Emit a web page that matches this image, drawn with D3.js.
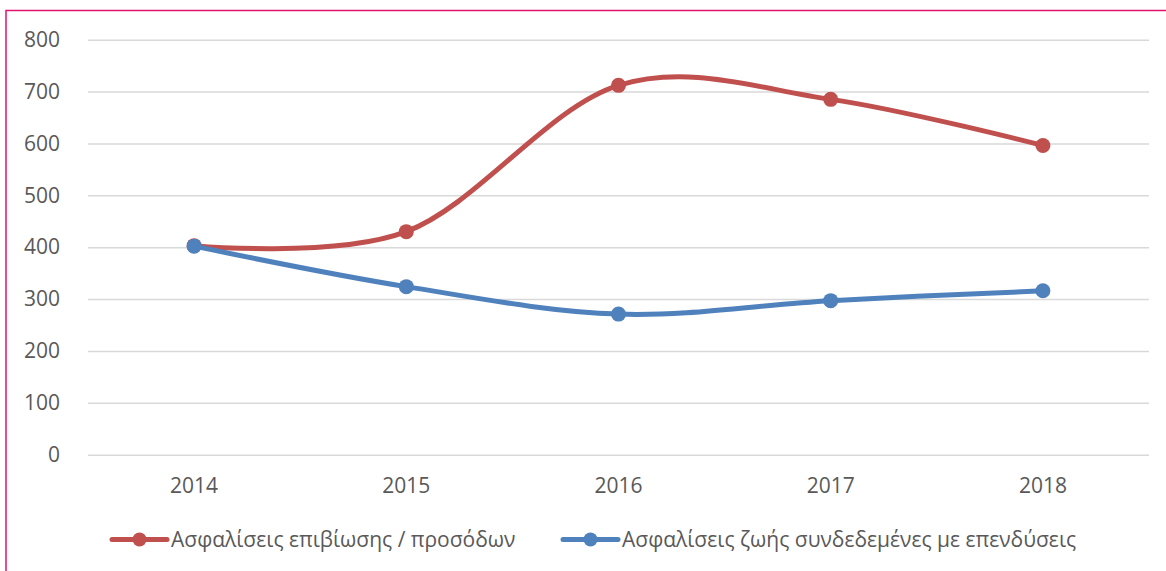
<!DOCTYPE html>
<html>
<head>
<meta charset="utf-8">
<script src="https://cdn.jsdelivr.net/npm/d3@7"></script>
<style>
  html, body { margin: 0; padding: 0; background: #fff; }
  svg { display: block; }
  text { font-family: "Open Sans", "Noto Sans", sans-serif; fill: #595959; }
</style>
</head>
<body>
<svg id="chart" width="1166" height="571"></svg>
<script>
const categories = ["2014", "2015", "2016", "2017", "2018"];
const seriesNames = ["Ασφαλίσεις επιβίωσης / προσόδων", "Ασφαλίσεις ζωής συνδεδεμένες με επενδύσεις"];
const survivalValues = [403, 430, 712, 685, 596];
const unitLinkedValues = [402, 324, 271, 297, 316];
const yTicks = [0, 100, 200, 300, 400, 500, 600, 700, 800];
const colors = ["#c0504d", "#4f81bd"];

const svg = d3.select("#chart");
const W = 1166, H = 571;
const plot = { left: 88, right: 1149, top: 39.7, bottom: 454.7 };
const FS = 21;

// border
svg.append("rect").attr("x", 6).attr("y", 10.5).attr("width", W + 10).attr("height", H + 10)
  .attr("fill", "none").attr("stroke", "#e2136e").attr("stroke-width", 1.5);

const x = d3.scaleBand().domain(categories).range([plot.left, plot.right]).padding(0);
const y = d3.scaleLinear().domain([0, 800]).range([plot.bottom, plot.top]);
const cx = d => x(d) + x.bandwidth() / 2;

// gridlines + y labels
const yAxis = d3.axisLeft(y).tickValues(yTicks).tickSize(-(plot.right - plot.left)).tickPadding(28).tickFormat(d3.format("d"));
const gy = svg.append("g").attr("transform", `translate(${plot.left},0)`).call(yAxis);
gy.select(".domain").remove();
gy.selectAll(".tick line").attr("stroke", "#d9d9d9").attr("stroke-width", 1.5);
gy.selectAll(".tick text").attr("font-size", FS).attr("fill", "#595959").attr("font-family", null);

const xAxis = d3.axisBottom(x).tickSize(0).tickPadding(23.5);
const gx = svg.append("g").attr("transform", `translate(0,${plot.bottom})`).call(xAxis);
gx.select(".domain").remove();
gx.selectAll(".tick text").attr("font-size", FS).attr("fill", "#595959").attr("font-family", null);
svg.selectAll("g").attr("font-family", null).attr("font-size", null);

const line = d3.line().x((d, i) => cx(categories[i])).y(d => y(d)).curve(d3.curveCardinal.tension(0));

const series = [survivalValues, unitLinkedValues];
series.forEach((vals, si) => {
  svg.append("path").datum(vals).attr("d", line).attr("fill", "none")
    .attr("stroke", colors[si]).attr("stroke-width", 5).attr("stroke-linecap", "round");
  svg.selectAll(null).data(vals).enter().append("circle")
    .attr("cx", (d, i) => cx(categories[i])).attr("cy", d => y(d)).attr("r", 7.5)
    .attr("fill", colors[si]);
});

// legend
const legendItems = [{ x: 112, name: seriesNames[0] }, { x: 563, name: seriesNames[1] }];
legendItems.forEach((it, i) => {
  const g = svg.append("g").attr("transform", `translate(${it.x},539.5)`);
  g.append("line").attr("x1", 0).attr("x2", 55).attr("y1", 0).attr("y2", 0)
    .attr("stroke", colors[i]).attr("stroke-width", 5).attr("stroke-linecap", "round");
  g.append("circle").attr("cx", 27.5).attr("cy", 0).attr("r", 7).attr("fill", colors[i]);
  g.append("text").attr("x", 59).attr("y", 7).attr("font-size", FS).text(it.name);
});
</script>
</body>
</html>
